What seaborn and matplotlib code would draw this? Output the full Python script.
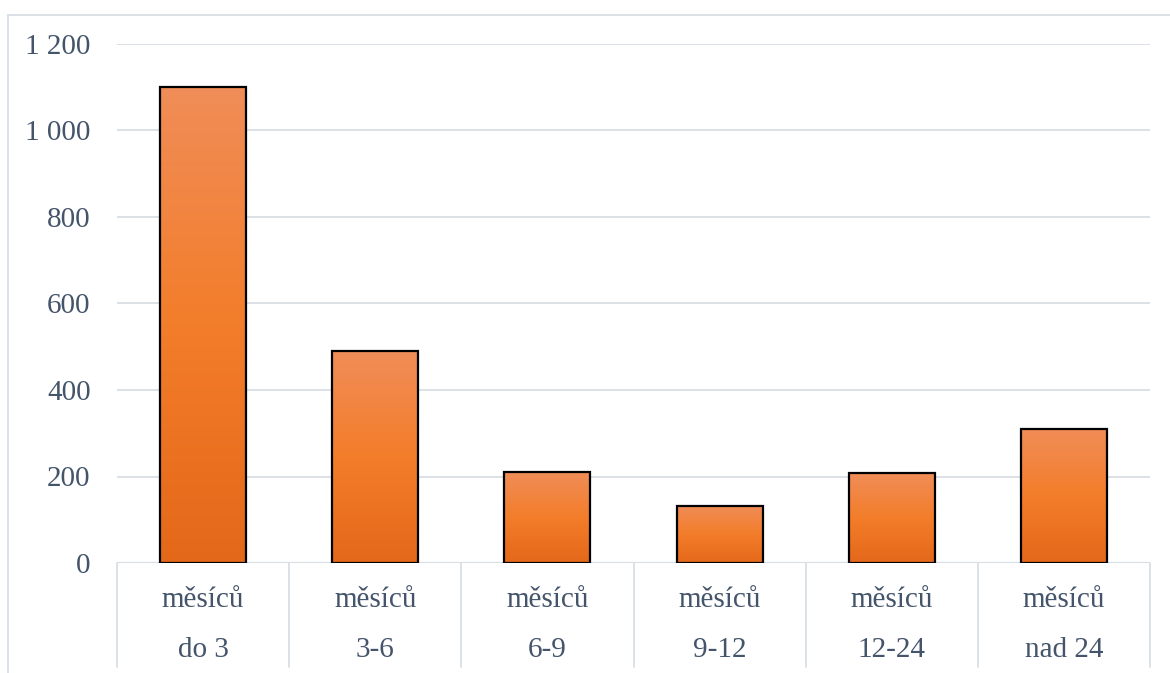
import numpy as np
import matplotlib
matplotlib.use("Agg")
import matplotlib.pyplot as plt
import seaborn as sns
import pandas as pd
from matplotlib.colors import LinearSegmentedColormap
from matplotlib.lines import Line2D

categories_top = ["měsíců"] * 6
categories_bottom = ["do 3", "3-6", "6-9", "9-12", "12-24", "nad 24"]
values = [1100, 490, 210, 132, 208, 310]
yticks = [0, 200, 400, 600, 800, 1000, 1200]
ytick_labels = ["0", "200", "400", "600", "800", "1 000", "1 200"]

sns.set_theme(style="white")
plt.rcParams['font.family'] = ['Liberation Serif', 'DejaVu Serif']

W, H = 1170, 673
fig = plt.figure(figsize=(W / 100, H / 100), dpi=100)
ax = fig.add_axes([117 / W, 1 - 563 / H, (1150 - 117) / W, (563 - 44) / H])

df = pd.DataFrame({"cat": categories_bottom, "val": values})
sns.barplot(data=df, x="cat", y="val", ax=ax, width=0.5, color="#F37E2B",
            edgecolor="black", linewidth=1.6, zorder=3)

cmap = LinearSegmentedColormap.from_list("g", ["#E4681A", "#F37D2A", "#F08D58"])
grad = np.linspace(0, 1, 256).reshape(-1, 1)
for p in ax.patches:
    x0, y0 = p.get_x(), p.get_y()
    w, h = p.get_width(), p.get_height()
    im = ax.imshow(grad, cmap=cmap, aspect="auto", origin="lower",
                   extent=[x0, x0 + w, y0, y0 + h], zorder=3.5)
    im.set_clip_path(p)
    p.set_facecolor("none")
    p.set_zorder(4)

FS = 21
TXT = "#44546A"
ax.set_xlim(-0.5, 5.5)
ax.set_ylim(0, 1200)
ax.set_yticks(yticks)
ax.set_yticklabels(ytick_labels, fontsize=FS, color=TXT)
ax.tick_params(axis="y", length=0, pad=19)
ax.set_xticks([])
ax.set_xlabel("")
ax.set_ylabel("")
for s in ax.spines.values():
    s.set_visible(False)
ax.yaxis.grid(True, color="#D9DEE6", linewidth=1.3, zorder=0)
ax.set_axisbelow(True)
ax.axhline(0, color="#D9DEE6", linewidth=1.6, zorder=2)

# category separators extending below the axis
trans = ax.get_xaxis_transform()
for b in np.arange(-0.5, 6.0, 1.0):
    ax.add_line(Line2D([b, b], [0, -(667 - 563) / (563 - 44)], transform=trans,
                       color="#D9DEE6", linewidth=1.3, clip_on=False))

for i, (t, b) in enumerate(zip(categories_top, categories_bottom)):
    ax.text(i, -(600 - 563) / (563 - 44), t, transform=trans, ha="center", va="center",
            fontsize=FS, color=TXT)
    ax.text(i, -(650 - 563) / (563 - 44), b, transform=trans, ha="center", va="center",
            fontsize=FS, color=TXT)

# outer frame (top and left visible)
fig.add_artist(Line2D([8 / W, 1.0], [1 - 15 / H, 1 - 15 / H], transform=fig.transFigure,
                      color="#D9DEE6", linewidth=1.3))
fig.add_artist(Line2D([8 / W, 8 / W], [0, 1 - 15 / H], transform=fig.transFigure,
                      color="#D9DEE6", linewidth=1.3))

fig.savefig("out.png", dpi=100)
